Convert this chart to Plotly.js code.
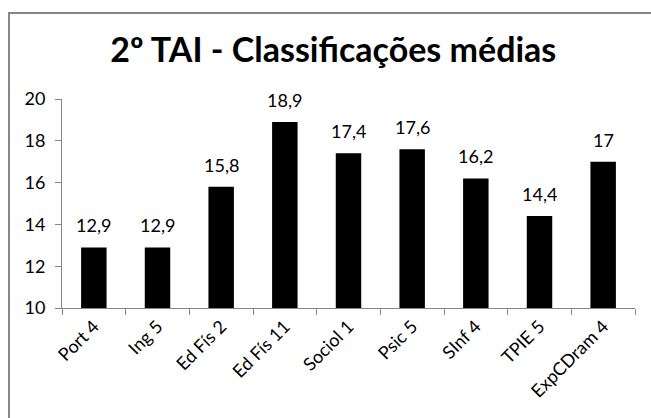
<!DOCTYPE html>
<html><head><meta charset="utf-8">
<script src="https://cdn.plot.ly/plotly-3.0.1.min.js"></script>
<style>html,body{margin:0;padding:0;background:#fff}#c{width:651px;height:418px}</style>
</head><body><div id="c"></div>
<script>
var categories = ["Port 4","Ing 5","Ed Fís 2","Ed Fís 11","Sociol 1","Psic 5","SInf 4","TPIE 5","ExpCDram 4"];
var values = [12.9,12.9,15.8,18.9,17.4,17.6,16.2,14.4,17.0];
var valueLabels = ["12,9","12,9","15,8","18,9","17,4","17,6","16,2","14,4","17"];
var yTicks = [10,12,14,16,18,20];

var font = "Lato, 'Open Sans', sans-serif";
var grey = "#868686";
var L = 62, R = 16, T = 99, B = 110, W = 651, H = 418;
var pw = W - L - R, ph = H - T - B;

var trace = {
  type: "bar", x: categories, y: values,
  marker: {color: "#000"},
  cliponaxis: false, hoverinfo: "none"
};
var annotations = categories.map(function (c, i) {
  return {x: c, y: values[i], xref: "x", yref: "y", text: valueLabels[i], showarrow: false,
          yanchor: "bottom", yshift: 9, font: {family: font, size: 18, color: "#000"}};
});
var layout = {
  width: W, height: H,
  margin: {l: L, r: R, t: T, b: B, pad: 0},
  paper_bgcolor: "#fff", plot_bgcolor: "#fff",
  showlegend: false, bargap: 0.6,
  annotations: annotations,
  title: {text: "<b>2º TAI - Classificações médias</b>", font: {family: font, size: 34, color: "#000"},
          x: 0.512, xanchor: "center", y: 0.88, yanchor: "middle"},
  xaxis: {type: "category", tickson: "boundaries", ticks: "outside", ticklen: 6, tickcolor: grey,
          showline: true, linecolor: grey, linewidth: 1, showgrid: false, tickangle: -45,
          tickfont: {family: font, size: 18, color: "#000"}, fixedrange: true},
  yaxis: {range: [10, 20], tickvals: yTicks, ticks: "outside", ticklen: 6, tickcolor: grey,
          showline: true, linecolor: grey, linewidth: 1, showgrid: false, zeroline: false,
          tickfont: {family: font, size: 18, color: "#000"}, ticklabelstandoff: 6, fixedrange: true},
  shapes: [{type: "rect", xref: "paper", yref: "paper",
            x0: (9 - L) / pw, x1: (W + 20 - L) / pw,
            y0: -(B + 20) / ph, y1: (H - 13 - B) / ph,
            line: {color: grey, width: 2}, fillcolor: "rgba(0,0,0,0)", layer: "below"}]
};
Plotly.newPlot("c", [trace], layout, {displayModeBar: false, staticPlot: true});
</script></body></html>
